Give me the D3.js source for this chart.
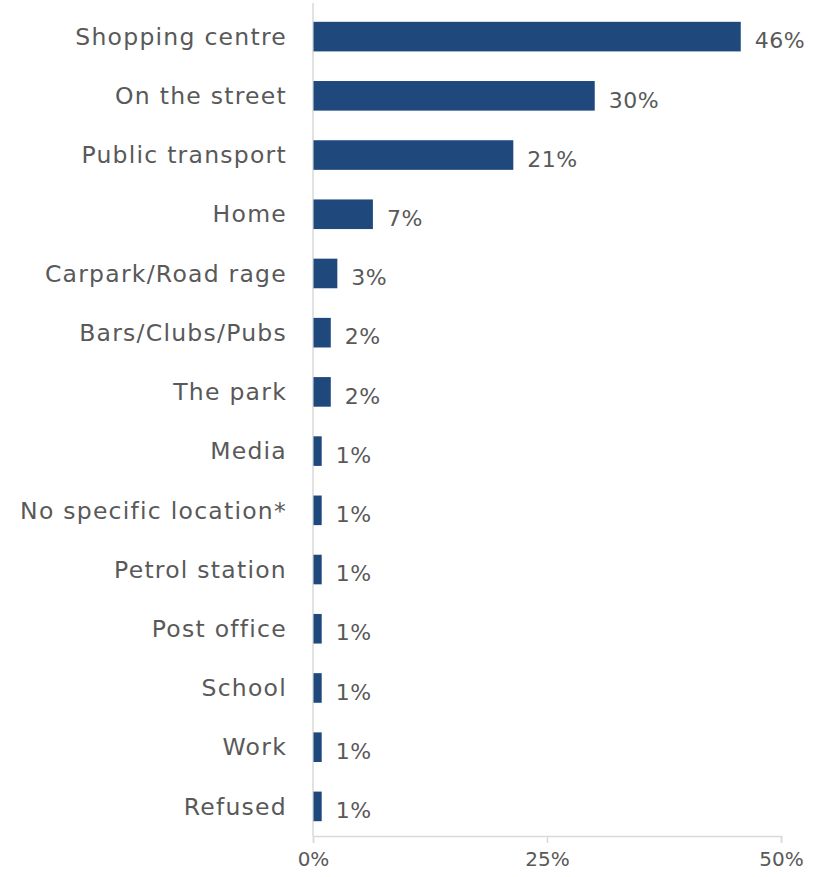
<!DOCTYPE html>
<html>
<head>
<meta charset="utf-8">
<script src="https://cdn.jsdelivr.net/npm/d3@7"></script>
<style>
  html, body { margin: 0; padding: 0; background: #fff; }
  svg { display: block; }
  text { font-family: "DejaVu Sans", sans-serif; fill: #595959; }
</style>
</head>
<body>
<svg id="chart" width="823" height="877"></svg>
<script>
const categories = ["Shopping centre", "On the street", "Public transport", "Home",
  "Carpark/Road rage", "Bars/Clubs/Pubs", "The park", "Media", "No specific location*",
  "Petrol station", "Post office", "School", "Work", "Refused"];
const values = [45.7, 30.1, 21.4, 6.4, 2.6, 1.9, 1.9, 0.93, 0.93, 0.93, 0.93, 0.93, 0.93, 0.93];
const valueLabels = ["46%", "30%", "21%", "7%", "3%", "2%", "2%", "1%", "1%", "1%", "1%", "1%", "1%", "1%"];
const tickValues = [0, 25, 50];
const tickLabels = ["0%", "25%", "50%"];

const svg = d3.select("#chart");
const x0 = 313, x1 = 781, yTop = 7, yBot = 836;

const x = d3.scaleLinear().domain([0, 50]).range([x0, x1]);
const y = d3.scaleBand().domain(categories).range([yTop, yBot]).paddingInner(0.5).paddingOuter(0.25);

// vertical axis line
svg.append("line").attr("x1", x0).attr("x2", x0).attr("y1", yTop - 4).attr("y2", yBot)
  .attr("stroke", "#d9d9d9").attr("stroke-width", 1.5);

// bottom axis
const xAxis = d3.axisBottom(x).tickValues(tickValues)
  .tickFormat((d, i) => tickLabels[i]).tickSizeOuter(0).tickSize(7).tickPadding(9);
const gx = svg.append("g").attr("transform", `translate(0,${yBot})`).call(xAxis);
gx.select(".domain").attr("stroke", "#d9d9d9").attr("stroke-width", 1.5);
gx.selectAll(".tick line").attr("stroke", "#d9d9d9").attr("stroke-width", 1.5);
gx.selectAll(".tick text").style("font-size", "20px").attr("fill", "#595959")
  .style("font-family", "'DejaVu Sans', sans-serif");

// bars
svg.append("g").selectAll("rect").data(categories).join("rect")
  .attr("x", x(0) + 0.5)
  .attr("y", d => y(d))
  .attr("width", (d, i) => x(values[i]) - x(0) - 0.5)
  .attr("height", y.bandwidth())
  .attr("fill", "#1f497d");

// category labels
svg.append("g").selectAll("text").data(categories).join("text")
  .attr("x", 287)
  .attr("y", d => y(d) + y.bandwidth() / 2)
  .attr("dy", "0.35em")
  .attr("text-anchor", "end")
  .style("font-size", "23.5px")
  .style("letter-spacing", "1.25px")
  .text(d => d);

// value labels
svg.append("g").selectAll("text").data(categories).join("text")
  .attr("x", (d, i) => x(values[i]) + 14)
  .attr("y", d => y(d) + y.bandwidth() / 2 + 4)
  .attr("dy", "0.35em")
  .style("font-size", "22px")
  .style("letter-spacing", "0.5px")
  .text((d, i) => valueLabels[i]);
</script>
</body>
</html>
